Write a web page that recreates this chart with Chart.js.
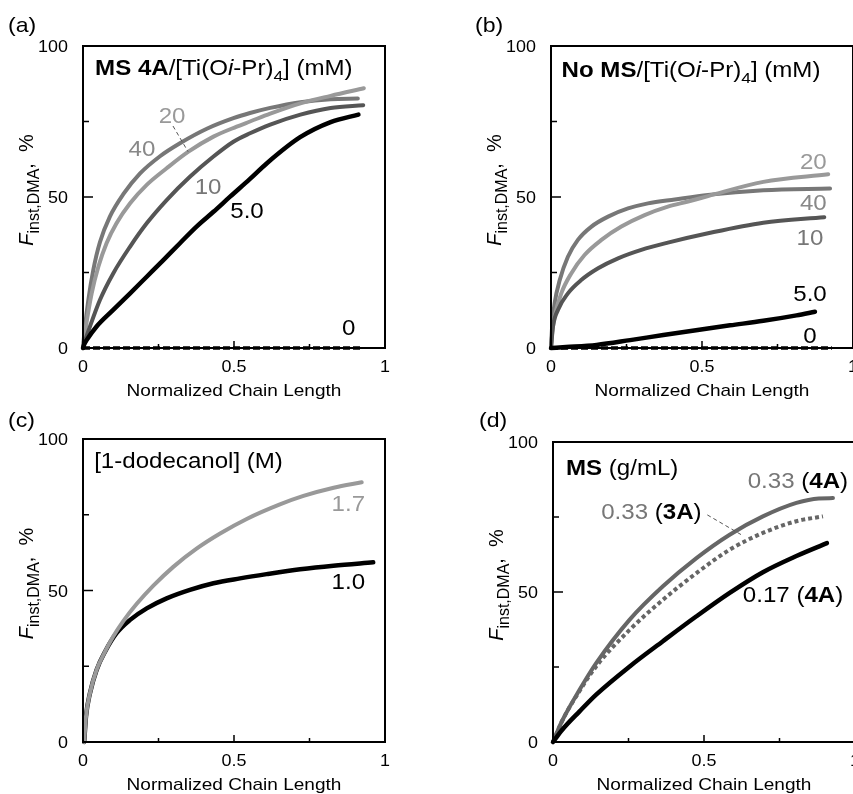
<!DOCTYPE html>
<html>
<head>
<meta charset="utf-8">
<script src="https://cdn.jsdelivr.net/npm/chart.js@4.4.1/dist/chart.umd.min.js"></script>
<style>
  html, body { margin: 0; padding: 0; background: #fff; overflow: hidden; }
  body { width: 853px; height: 794px; position: relative; }
  canvas { position: absolute; }
</style>
</head>
<body>
<canvas id="chartA" width="430" height="410" style="left:0px;top:0px"></canvas>
<canvas id="chartB" width="440" height="410" style="left:430px;top:0px"></canvas>
<canvas id="chartC" width="430" height="399" style="left:0px;top:395px"></canvas>
<canvas id="chartD" width="440" height="399" style="left:430px;top:395px"></canvas>
<script>
// axis ticks shared by all four panels
const xTicks = [0, 0.5, 1];
const xTickLabels = ["0", "0.5", "1"];
const xMinorTicks = [0.25, 0.75];
const yTicks = [0, 50, 100];
const yTickLabels = ["0", "50", "100"];
const yMinorTicks = [25, 75];

// (a) MS 4A / [Ti(Oi-Pr)4] in mM
const a40X = [0, 0.005, 0.0177, 0.034, 0.056, 0.089, 0.134, 0.189, 0.255, 0.321, 0.41, 0.498, 0.553, 0.62, 0.72, 0.82, 0.91];
const a40Y = [0, 5.5, 15.9, 25.8, 35, 43.5, 51, 57.8, 63.5, 67.8, 72.6, 76.1, 77.8, 79.5, 81.4, 82.4, 82.6];
const a20X = [0, 0.008, 0.0287, 0.0508, 0.078, 0.111, 0.156, 0.211, 0.277, 0.349, 0.432, 0.509, 0.553, 0.62, 0.72, 0.82, 0.93];
const a20Y = [0, 6, 18.1, 26.9, 34.7, 41.3, 47.9, 54, 59.5, 65, 70, 73.3, 75, 77.6, 81, 83.5, 86];
const a10X = [0, 0.005, 0.023, 0.056, 0.1, 0.156, 0.211, 0.277, 0.354, 0.432, 0.498, 0.553, 0.62, 0.72, 0.82, 0.928];
const a10Y = [0, 1.8, 7.1, 15.9, 24.7, 33.6, 41.3, 49, 56.7, 63.4, 68.3, 71.1, 74, 77.3, 79.5, 80.4];
const a5X = [0, 0.004, 0.012, 0.045, 0.1, 0.156, 0.211, 0.266, 0.321, 0.376, 0.432, 0.487, 0.553, 0.609, 0.719, 0.82, 0.912];
const a5Y = [0, 1.2, 2.6, 7.1, 12.6, 18.1, 23.6, 29.1, 34.7, 40.2, 45.1, 50.1, 56, 61.2, 69.8, 74.8, 77.3];
const a0X = [0, 0.92];
const a0Y = [0, 0];

// (b) no MS / [Ti(Oi-Pr)4] in mM
const b20X = [0, 0.004, 0.012, 0.034, 0.067, 0.111, 0.167, 0.233, 0.31, 0.387, 0.454, 0.52, 0.703, 0.918];
const b20Y = [0, 5, 10.4, 18.1, 24.7, 30.8, 35.8, 40.2, 44, 46.8, 48.5, 50.3, 55, 57.5];
const b40X = [0, 0.004, 0.012, 0.029, 0.056, 0.089, 0.134, 0.189, 0.255, 0.321, 0.41, 0.52, 0.703, 0.924];
const b40Y = [0, 7.5, 14.8, 22.5, 30.2, 35.8, 40.2, 43.5, 46.2, 47.9, 49.2, 50.7, 52.2, 52.8];
const b10X = [0, 0.0066, 0.023, 0.056, 0.1, 0.156, 0.222, 0.299, 0.387, 0.52, 0.703, 0.905];
const b10Y = [0, 7.1, 12.6, 18.1, 22.5, 26.4, 29.7, 32.5, 34.9, 38, 41.5, 43.3];
const b5X = [0, 0.05, 0.151, 0.262, 0.372, 0.48, 0.593, 0.703, 0.813, 0.874];
const b5Y = [0, 0.3, 1, 2.6, 4.3, 5.9, 7.5, 9, 10.8, 12];
const b0X = [0, 0.93];
const b0Y = [0, 0];

// (c) [1-dodecanol] in M
const c17X = [0.004, 0.0099, 0.023, 0.045, 0.073, 0.1, 0.134, 0.178, 0.233, 0.299, 0.376, 0.454, 0.542, 0.652, 0.73, 0.83, 0.923];
const c17Y = [0, 8.4, 16.1, 23.8, 29.8, 34.8, 40, 45.6, 51.6, 57.8, 63.8, 68.8, 73.6, 78.4, 81.2, 83.9, 85.7];
const c10X = [0.004, 0.0099, 0.023, 0.045, 0.073, 0.111, 0.156, 0.211, 0.277, 0.354, 0.432, 0.52, 0.608, 0.719, 0.829, 0.961];
const c10Y = [0, 8.4, 16.1, 23.8, 29.8, 35.9, 40.3, 44.1, 47.4, 50.2, 52.4, 54, 55.4, 57, 58.2, 59.3];

// (d) MS in g/mL
const d33x4X = [0, 0.03, 0.088, 0.143, 0.254, 0.364, 0.475, 0.585, 0.695, 0.806, 0.88, 0.927];
const d33x4Y = [0, 7, 17.4, 26.3, 40.8, 51.9, 61.3, 69.1, 75.2, 79.7, 81.2, 81.3];
const d33x3X = [0, 0.03, 0.088, 0.143, 0.254, 0.364, 0.475, 0.585, 0.695, 0.806, 0.894];
const d33x3Y = [0, 7, 17, 25.2, 37.4, 47.4, 56.3, 64.1, 69.7, 73.6, 75.2];
const d17x4X = [0, 0.03, 0.088, 0.143, 0.254, 0.364, 0.475, 0.585, 0.695, 0.806, 0.907];
const d17x4Y = [0, 4, 10.2, 15.8, 25.2, 33.6, 41.9, 49.7, 56.6, 62, 66.3];

const FONT = '"Liberation Sans", Arial, Helvetica, sans-serif';
const SX = 1.12; // lettering in the figure is slightly wide

function pts(xs, ys) {
  return xs.map((x, i) => ({ x: x, y: ys[i] }));
}

function line(xs, ys, color, width, dash) {
  return {
    data: pts(xs, ys),
    borderColor: color,
    borderWidth: width,
    borderDash: dash || [],
    borderCapStyle: dash ? "butt" : "round",
    pointRadius: 0,
    cubicInterpolationMode: "monotone",
    fill: false,
    clip: false,
  };
}

function runFont(r, size) {
  const s = r.sub ? size * (r.ss || 0.72) : size;
  return (r.i ? "italic " : "") + (r.b ? "bold " : "") + s + "px " + FONT;
}

// draw a line of mixed text (bold / italic / subscript) with baseline at y
function drawRuns(ctx, runs, x, y, size, align, sx) {
  ctx.save();
  ctx.translate(x, y);
  ctx.scale(sx, 1);
  let w = 0;
  runs.forEach((r) => {
    ctx.font = runFont(r, size);
    w += ctx.measureText(r.t).width;
  });
  let cx = align === "right" ? -w : align === "center" ? -w / 2 : 0;
  ctx.textAlign = "left";
  ctx.textBaseline = "alphabetic";
  runs.forEach((r) => {
    ctx.font = runFont(r, size);
    ctx.fillStyle = r.c || "#000";
    ctx.fillText(r.t, cx, r.sub ? size * 0.28 : 0);
    cx += ctx.measureText(r.t).width;
  });
  ctx.restore();
}

const yTitle = [{ t: "F", i: true }, { t: "inst,DMA", sub: true, ss: 0.8 }, { t: ",  %" }];

// frame, inward ticks, tick labels, axis titles and in-plot labels
const panelPlugin = {
  id: "panel",
  afterDatasetsDraw(chart, args, opts) {
    const { ctx, chartArea: a } = chart;
    const xs = chart.scales.x;
    const ys = chart.scales.y;
    ctx.save();

    // leader lines
    ctx.strokeStyle = "#555";
    ctx.lineWidth = 1;
    ctx.setLineDash([4, 3]);
    (opts.leaders || []).forEach((l) => {
      ctx.beginPath();
      ctx.moveTo(xs.getPixelForValue(l[0]), ys.getPixelForValue(l[1]));
      ctx.lineTo(xs.getPixelForValue(l[2]), ys.getPixelForValue(l[3]));
      ctx.stroke();
    });
    ctx.setLineDash([]);

    // box
    ctx.strokeStyle = "#000";
    ctx.lineWidth = 2;
    ctx.strokeRect(a.left, a.top, a.right - a.left, a.bottom - a.top);

    // ticks pointing inward
    ctx.lineWidth = 1.5;
    ctx.beginPath();
    xTicks.forEach((v) => {
      const px = xs.getPixelForValue(v);
      ctx.moveTo(px, a.bottom);
      ctx.lineTo(px, a.bottom - 7);
    });
    xMinorTicks.forEach((v) => {
      const px = xs.getPixelForValue(v);
      ctx.moveTo(px, a.bottom);
      ctx.lineTo(px, a.bottom - 4);
    });
    yTicks.forEach((v) => {
      const py = ys.getPixelForValue(v);
      ctx.moveTo(a.left, py);
      ctx.lineTo(a.left + 10, py);
    });
    yMinorTicks.forEach((v) => {
      const py = ys.getPixelForValue(v);
      ctx.moveTo(a.left, py);
      ctx.lineTo(a.left + 6, py);
    });
    ctx.stroke();

    // tick labels
    xTicks.forEach((v, i) => {
      drawRuns(ctx, [{ t: xTickLabels[i] }], xs.getPixelForValue(v), a.bottom + 24, 16, "center", SX);
    });
    yTicks.forEach((v, i) => {
      drawRuns(ctx, [{ t: yTickLabels[i] }], a.left - 15, ys.getPixelForValue(v) + 6, 16, "right", SX);
    });

    // axis titles
    const cx = (a.left + a.right) / 2;
    const cy = (a.top + a.bottom) / 2;
    drawRuns(ctx, [{ t: "Normalized Chain Length" }], cx, a.bottom + 48, 17, "center", SX);
    ctx.save();
    ctx.translate(a.left - 57, cy - 7);
    ctx.rotate(-Math.PI / 2);
    drawRuns(ctx, yTitle, 0, 7, 20, "center", 1);
    ctx.restore();

    // panel letter
    drawRuns(ctx, [{ t: opts.letter }], opts.letterX, 32, 21, "left", 1.1);

    // in-plot labels (x, y in data units, y = baseline)
    (opts.notes || []).forEach((n) => {
      drawRuns(ctx, n.runs, xs.getPixelForValue(n.x), ys.getPixelForValue(n.y), n.size || 21.5, n.align || "left", SX);
    });

    ctx.restore();
  },
};

function makeChart(id, padding, datasets, panel) {
  return new Chart(document.getElementById(id), {
    type: "line",
    data: { datasets: datasets },
    options: {
      responsive: false,
      animation: false,
      devicePixelRatio: 1,
      layout: { autoPadding: false, padding: padding },
      scales: {
        x: { type: "linear", min: 0, max: 1, display: false },
        y: { type: "linear", min: 0, max: 100, display: false },
      },
      plugins: {
        legend: { display: false },
        tooltip: { enabled: false },
        panel: panel,
      },
    },
    plugins: [panelPlugin],
  });
}

const tiRuns = [{ t: "/[Ti(O" }, { t: "i", i: true }, { t: "-Pr)" }, { t: "4", sub: true }, { t: "] (mM)" }];

// (a)
makeChart(
  "chartA",
  { left: 83, top: 46, right: 45, bottom: 62 },
  [
    line(a0X, a0Y, "#000", 3.5, [7, 3]),
    line(a5X, a5Y, "#000", 4.5),
    line(a10X, a10Y, "#555", 4),
    line(a20X, a20Y, "#999", 4),
    line(a40X, a40Y, "#777", 4),
  ],
  {
    letter: "(a)",
    letterX: 8,
    leaders: [[0.298, 73.5, 0.348, 65]],
    notes: [
      { x: 0.04, y: 90.4, runs: [{ t: "MS 4A", b: true }].concat(tiRuns) },
      { x: 0.295, y: 74.6, align: "center", runs: [{ t: "20", c: "#999" }] },
      { x: 0.195, y: 63.6, align: "center", runs: [{ t: "40", c: "#888" }] },
      { x: 0.414, y: 50.9, align: "center", runs: [{ t: "10", c: "#777" }] },
      { x: 0.543, y: 43, align: "center", runs: [{ t: "5.0" }] },
      { x: 0.88, y: 4.2, align: "center", runs: [{ t: "0" }] },
    ],
  }
);

// (b)
makeChart(
  "chartB",
  { left: 121, top: 46, right: 17, bottom: 62 },
  [
    line(b0X, b0Y, "#000", 3.5, [7, 3]),
    line(b5X, b5Y, "#000", 4.5),
    line(b10X, b10Y, "#555", 4),
    line(b20X, b20Y, "#999", 4),
    line(b40X, b40Y, "#777", 4),
  ],
  {
    letter: "(b)",
    letterX: 45,
    notes: [
      { x: 0.035, y: 89.7, runs: [{ t: "No MS", b: true }].concat(tiRuns) },
      { x: 0.913, y: 59.2, align: "right", runs: [{ t: "20", c: "#999" }] },
      { x: 0.913, y: 45.6, align: "right", runs: [{ t: "40", c: "#888" }] },
      { x: 0.902, y: 34, align: "right", runs: [{ t: "10", c: "#777" }] },
      { x: 0.913, y: 15.5, align: "right", runs: [{ t: "5.0" }] },
      { x: 0.88, y: 1.6, align: "right", runs: [{ t: "0" }] },
    ],
  }
);

// (c)
makeChart(
  "chartC",
  { left: 83, top: 44, right: 45, bottom: 52 },
  [line(c17X, c17Y, "#999", 4), line(c10X, c10Y, "#000", 4.5)],
  {
    letter: "(c)",
    letterX: 8,
    notes: [
      { x: 0.037, y: 90.3, runs: [{ t: "[1-dodecanol] (M)" }] },
      { x: 0.934, y: 76.1, align: "right", runs: [{ t: "1.7", c: "#999" }] },
      { x: 0.934, y: 50.6, align: "right", runs: [{ t: "1.0" }] },
    ],
  }
);

// (d)
makeChart(
  "chartD",
  { left: 123, top: 47, right: 15, bottom: 52 },
  [
    line(d17x4X, d17x4Y, "#000", 4.5),
    line(d33x3X, d33x3Y, "#666", 4, [4, 3]),
    line(d33x4X, d33x4Y, "#666", 4),
  ],
  {
    letter: "(d)",
    letterX: 49,
    leaders: [[0.511, 75.7, 0.63, 68.7]],
    notes: [
      { x: 0.043, y: 89, runs: [{ t: "MS", b: true }, { t: " (g/mL)" }] },
      { x: 0.977, y: 84.6, align: "right", runs: [{ t: "0.33 ", c: "#777" }, { t: "(" }, { t: "4A", b: true }, { t: ")" }] },
      { x: 0.492, y: 74.3, align: "right", runs: [{ t: "0.33 ", c: "#777" }, { t: "(" }, { t: "3A", b: true }, { t: ")" }] },
      { x: 0.961, y: 46.6, align: "right", runs: [{ t: "0.17 (" }, { t: "4A", b: true }, { t: ")" }] },
    ],
  }
);
</script>
</body>
</html>
